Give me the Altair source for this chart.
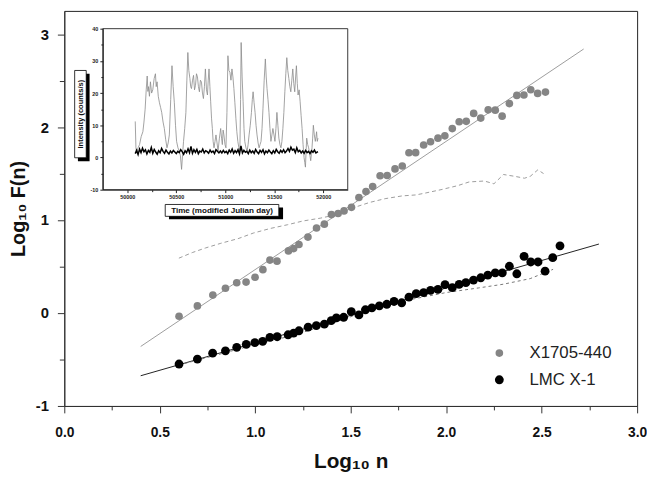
import altair as alt
import pandas as pd

FONT = "Liberation Sans"

# ---------------- main panel data ----------------
series_names = ["X1705-440", "LMC X-1"]
series_colors = ["#858585", "#000000"]

x1705_logn = [0.601, 0.697, 0.778, 0.844, 0.903, 0.952, 0.999, 1.040, 1.077, 1.114,
              1.174, 1.201, 1.229, 1.276, 1.321, 1.362, 1.399, 1.434, 1.465, 1.504,
              1.543, 1.580, 1.615, 1.654, 1.691, 1.732, 1.770, 1.805, 1.840, 1.882,
              1.918, 1.957, 1.993, 2.032, 2.068, 2.105, 2.144, 2.181, 2.220, 2.257,
              2.293, 2.331, 2.370, 2.407, 2.443, 2.479, 2.520]
x1705_logf = [-0.035, 0.076, 0.193, 0.266, 0.326, 0.333, 0.385, 0.466, 0.569, 0.558,
              0.668, 0.693, 0.737, 0.817, 0.915, 0.956, 1.059, 1.070, 1.098, 1.137,
              1.243, 1.307, 1.360, 1.477, 1.479, 1.550, 1.582, 1.724, 1.725, 1.807,
              1.842, 1.881, 1.906, 1.984, 2.058, 2.062, 2.147, 2.097, 2.186, 2.182,
              2.118, 2.253, 2.341, 2.345, 2.402, 2.362, 2.377]

lmc_logn = [0.601, 0.697, 0.777, 0.844, 0.903, 0.953, 0.998, 1.039, 1.077, 1.115,
            1.172, 1.201, 1.229, 1.277, 1.320, 1.362, 1.398, 1.425, 1.463, 1.503,
            1.543, 1.577, 1.611, 1.650, 1.689, 1.727, 1.767, 1.805, 1.843, 1.882,
            1.918, 1.957, 1.994, 2.032, 2.068, 2.103, 2.143, 2.181, 2.218, 2.257,
            2.294, 2.331, 2.370, 2.408, 2.443, 2.481, 2.518, 2.558, 2.596]
lmc_logf = [-0.549, -0.496, -0.432, -0.407, -0.369, -0.337, -0.319, -0.305, -0.262, -0.255,
            -0.234, -0.216, -0.191, -0.152, -0.135, -0.120, -0.082, -0.053, -0.046, 0.014,
            -0.021, 0.035, 0.056, 0.077, 0.094, 0.124, 0.110, 0.170, 0.209, 0.220,
            0.244, 0.255, 0.305, 0.273, 0.308, 0.326, 0.354, 0.379, 0.407, 0.432,
            0.432, 0.503, 0.422, 0.609, 0.549, 0.549, 0.450, 0.595, 0.723]

# straight-line fits (end points)
x1705_fit_logn = [0.40, 2.72]
x1705_fit_logf = [-0.36, 2.84]
lmc_fit_logn = [0.40, 2.80]
lmc_fit_logf = [-0.675, 0.742]

# dashed curves
x1705_dash_logn = [0.60, 0.67, 0.74, 0.82, 0.91, 0.99, 1.08, 1.17, 1.25, 1.34,
                   1.43, 1.51, 1.60, 1.68, 1.77, 1.84, 1.89, 1.98, 2.06, 2.12,
                   2.20, 2.25, 2.30, 2.36, 2.41, 2.44, 2.48, 2.51]
x1705_dash_logf = [0.59, 0.65, 0.70, 0.75, 0.80, 0.86, 0.91, 0.95, 0.99, 1.02,
                   1.06, 1.13, 1.19, 1.23, 1.26, 1.27, 1.29, 1.33, 1.37, 1.41,
                   1.42, 1.39, 1.49, 1.47, 1.45, 1.47, 1.54, 1.50]
lmc_dash_logn = [0.60, 0.80, 1.00, 1.20, 1.40, 1.60, 1.80, 2.00, 2.17, 2.30, 2.44, 2.56]
lmc_dash_logf = [-0.56, -0.45, -0.34, -0.24, -0.11, 0.03, 0.14, 0.22, 0.27, 0.31, 0.37, 0.47]

x_ticks = [0.0, 0.25, 0.5, 0.75, 1.0, 1.25, 1.5, 1.75, 2.0, 2.25, 2.5, 2.75, 3.0]
y_ticks = [-1.0, -0.5, 0.0, 0.5, 1.0, 1.5, 2.0, 2.5, 3.0]

# ---------------- inset data ----------------
inset_day_domain = [49750, 52250]
inset_rate_domain = [-10, 40]
inset_day_ticks = [50000, 50250, 50500, 50750, 51000, 51250, 51500, 51750, 52000]
inset_rate_ticks = [-10, -5, 0, 5, 10, 15, 20, 25, 30, 35, 40]

x1705_day = [50081, 50088, 50095, 50110, 50125, 50142, 50159, 50170, 50182, 50193,
             50203, 50210, 50216, 50226, 50236, 50248, 50260, 50274, 50287, 50295,
             50304, 50316, 50328, 50340, 50351, 50365, 50378, 50392, 50405, 50417,
             50429, 50443, 50456, 50468, 50480, 50492, 50503, 50517, 50530, 50542,
             50554, 50564, 50574, 50586, 50598, 50608, 50618, 50628, 50639, 50647,
             50655, 50666, 50676, 50686, 50696, 50706, 50716, 50726, 50736, 50746,
             50757, 50767, 50777, 50787, 50797, 50808, 50818, 50826, 50834, 50843,
             50851, 50860, 50868, 50876, 50885, 50895, 50905, 50916, 50926, 50940,
             50953, 50962, 50970, 50978, 50986, 50997, 51007, 51017, 51027, 51037,
             51047, 51058, 51068, 51078, 51088, 51098, 51108, 51118, 51128, 51139,
             51149, 51156, 51162, 51172, 51182, 51191, 51199, 51211, 51223, 51233,
             51243, 51255, 51267, 51276, 51284, 51294, 51304, 51314, 51324, 51335,
             51345, 51355, 51365, 51375, 51385, 51397, 51409, 51418, 51426, 51436,
             51446, 51456, 51466, 51476, 51486, 51497, 51507, 51517, 51527, 51537,
             51547, 51558, 51568, 51578, 51588, 51598, 51608, 51618, 51628, 51638,
             51649, 51659, 51669, 51679, 51689, 51699, 51709, 51718, 51726, 51735,
             51743, 51754, 51764, 51774, 51784, 51794, 51804, 51811, 51818, 51825,
             51831, 51841, 51851, 51862, 51872, 51879, 51885, 51892, 51899, 51909,
             51919, 51926, 51932, 51939, 51946]
x1705_rate = [11.2, 3.0, 1.5, 3.0, 4.0, 6.5, 8.0, 11.0, 15.0, 21.0,
              25.3, 20.5, 22.0, 19.0, 23.5, 20.0, 21.0, 24.5, 26.0, 22.0,
              23.5, 19.0, 17.0, 15.5, 14.0, 11.0, 9.0, 5.5, 3.0, 4.5,
              7.0, 18.0, 28.5, 22.0, 17.0, 10.0, 5.0, 3.0, 2.0, 0.5,
              -3.7, 1.0, 5.0, 9.0, 14.0, 24.0, 32.6, 27.0, 24.5, 22.0,
              21.4, 24.0, 25.5, 21.0, 22.4, 26.0, 25.0, 22.0, 20.4, 24.0,
              23.4, 20.0, 18.3, 22.0, 27.5, 21.0, 19.4, 24.0, 27.5, 22.0,
              17.3, 12.0, 9.0, 5.0, 3.0, 5.0, 7.0, 4.5, 2.0, 6.0,
              9.0, 6.0, 4.0, 8.5, 7.0, 4.0, 3.0, 14.0, 31.6, 27.0,
              26.5, 24.0, 27.5, 25.0, 21.4, 17.0, 12.2, 8.0, 5.0, 3.0,
              2.0, 18.0, 35.7, 25.0, 17.3, 9.0, 5.0, 3.0, 2.0, 4.0,
              7.0, 10.0, 14.0, 18.0, 20.4, 17.0, 14.0, 10.0, 7.0, 4.5,
              3.0, 4.0, 5.0, 9.0, 15.3, 24.0, 30.6, 25.0, 21.4, 18.0,
              14.0, 9.0, 5.0, 7.0, 9.0, 7.0, 5.0, 9.0, 14.0, 10.0,
              6.0, 4.0, 3.0, 5.0, 9.0, 14.0, 20.4, 26.0, 31.0, 27.0,
              24.5, 22.0, 20.4, 24.0, 27.5, 23.0, 20.4, 25.0, 28.5, 23.0,
              19.4, 21.0, 17.3, 13.0, 9.0, 4.0, 0.0, -1.5, -3.0, 2.0,
              6.0, 4.0, 3.0, 1.0, -1.0, 1.0, 3.0, 6.0, 10.0, 7.0,
              5.0, 6.5, 8.0, 5.0, 6.0]

lmc_day = [50081, 50095, 50110, 50125, 50140, 50155, 50170, 50185, 50200, 50215,
           50230, 50245, 50260, 50275, 50290, 50305, 50320, 50335, 50350, 50365,
           50380, 50395, 50410, 50425, 50440, 50455, 50470, 50485, 50500, 50515,
           50530, 50545, 50560, 50575, 50590, 50605, 50620, 50635, 50650, 50665,
           50680, 50695, 50710, 50725, 50740, 50755, 50770, 50785, 50800, 50815,
           50830, 50845, 50860, 50875, 50890, 50905, 50920, 50935, 50950, 50965,
           50980, 50995, 51010, 51025, 51040, 51055, 51070, 51085, 51100, 51115,
           51130, 51145, 51160, 51175, 51190, 51205, 51220, 51235, 51250, 51265,
           51280, 51295, 51310, 51325, 51340, 51355, 51370, 51385, 51400, 51415,
           51430, 51445, 51460, 51475, 51490, 51505, 51520, 51535, 51550, 51565,
           51580, 51595, 51610, 51625, 51640, 51655, 51670, 51685, 51700, 51715,
           51730, 51745, 51760, 51775, 51790, 51805, 51820, 51835, 51850, 51865,
           51880, 51895, 51910, 51925, 51946]
lmc_rate = [1.2, 2.2, 0.9, 2.6, 1.5, 2.9, 1.8, 2.4, 1.1, 2.2,
            1.6, 3.1, 1.3, 2.5, 1.7, 1.0, 2.1, 1.5, 2.8, 1.9,
            1.3, 2.3, 1.6, 1.1, 2.0, 1.4, 2.2, 1.7, 1.2, 1.9,
            1.5, 2.4, 1.8, 1.0, 2.1, 1.5, 2.7, 1.5, 3.4, 1.3,
            2.4, 1.6, 2.5, 1.2, 2.0, 1.7, 2.6, 1.4, 2.1, 1.8,
            1.3, 2.3, 1.6, 2.0, 1.2, 2.4, 1.9, 1.4, 2.0, 1.4,
            2.2, 1.5, 1.9, 1.2, 2.3, 1.6, 2.6, 1.3, 2.1, 1.5,
            2.4, 1.1, 3.6, 1.4, 2.2, 1.6, 1.9, 1.2, 2.3, 1.5,
            2.0, 1.3, 2.5, 1.7, 1.2, 2.2, 1.6, 2.4, 1.1, 2.0,
            1.5, 2.3, 1.7, 1.2, 2.1, 1.4, 2.5, 1.8, 1.3, 2.2,
            1.6, 2.4, 1.5, 2.0, 2.8, 1.9, 3.2, 2.3, 2.6, 1.5,
            3.0, 1.8, 2.2, 1.4, 2.0, 1.3, 2.2, 1.5, 1.9, 1.2,
            2.1, 1.6, 2.3, 1.4, 1.8]

assert len(x1705_day) == len(x1705_rate)
assert len(lmc_day) == len(lmc_rate)

inset_y_title = "Intensity (counts/s)"
inset_x_title = "Time (modified Julian day)"

# ---------------- tables ----------------
points = pd.concat([
    pd.DataFrame({"x": x1705_logn, "y": x1705_logf, "series": series_names[0]}),
    pd.DataFrame({"x": lmc_logn, "y": lmc_logf, "series": series_names[1]}),
], ignore_index=True)

fit_gray = pd.DataFrame({"x": x1705_fit_logn, "y": x1705_fit_logf})
fit_black = pd.DataFrame({"x": lmc_fit_logn, "y": lmc_fit_logf})
dash_gray = pd.DataFrame({"x": x1705_dash_logn, "y": x1705_dash_logf})
dash_black = pd.DataFrame({"x": lmc_dash_logn, "y": lmc_dash_logf})

curve_gray = pd.DataFrame({"day": x1705_day, "rate": x1705_rate})
curve_black = pd.DataFrame({"day": lmc_day, "rate": lmc_rate})
frame_df = pd.DataFrame({"day": [inset_day_domain[0]], "day_end": [inset_day_domain[1]],
                         "rate": [inset_rate_domain[0]], "rate_end": [inset_rate_domain[1]]})

# ---------------- main axes ----------------
AX_COMMON = dict(labelFont=FONT, labelFontWeight="bold", labelColor="#111",
                 titleFont=FONT, titleFontWeight="bold", titleColor="#111",
                 domainColor="#333", tickColor="#333", grid=False,
                 labelOverlap=False, labelFlush=False, zindex=1)

x_axis = alt.Axis(orient="bottom", values=x_ticks,
                  labelExpr="datum.value % 0.5 === 0 ? format(datum.value, '.1f') : ''",
                  tickSize={"condition": {"test": "datum.value % 0.5 === 0", "value": 7}, "value": 4},
                  labelFontSize=14, labelPadding=13, titleFontSize=21, titlePadding=11,
                  **AX_COMMON)
y_axis = alt.Axis(orient="left", values=y_ticks,
                  labelExpr="datum.value % 1 === 0 ? '' + datum.value : ''",
                  tickSize={"condition": {"test": "datum.value % 1 === 0", "value": 7}, "value": 5},
                  labelFontSize=15, labelPadding=9, titleFontSize=20, titlePadding=7,
                  **AX_COMMON)

X_MAIN = alt.X("x:Q", scale=alt.Scale(domain=[0, 3], nice=False, zero=False),
               axis=x_axis, title="Log₁₀ n")
Y_MAIN = alt.Y("y:Q", scale=alt.Scale(domain=[-1, 3.25], nice=False, zero=False),
               axis=y_axis, title="Log₁₀ F(n)")

fit_gray_l = alt.Chart(fit_gray).mark_line(color="#9c9c9c", strokeWidth=1).encode(x=X_MAIN, y=Y_MAIN)
fit_black_l = alt.Chart(fit_black).mark_line(color="#222", strokeWidth=1).encode(x=X_MAIN, y=Y_MAIN)
dash_gray_l = alt.Chart(dash_gray).mark_line(color="#9c9c9c", strokeWidth=1,
                                             strokeDash=[4, 3]).encode(x=X_MAIN, y=Y_MAIN)
dash_black_l = alt.Chart(dash_black).mark_line(color="#777", strokeWidth=1,
                                               strokeDash=[3, 3]).encode(x=X_MAIN, y=Y_MAIN)
pts = alt.Chart(points).mark_circle(opacity=1).encode(
    x=X_MAIN, y=Y_MAIN,
    color=alt.Color("series:N", scale=alt.Scale(domain=series_names, range=series_colors),
                    legend=alt.Legend(orient="none", legendX=432, legendY=338, title=None,
                                      labelFont=FONT, labelFontSize=17, labelColor="#222",
                                      symbolType="circle", symbolSize=80, symbolStrokeWidth=0,
                                      labelOffset=22, rowPadding=9, padding=0)),
    size=alt.Size("series:N", scale=alt.Scale(domain=series_names, range=[60, 80]), legend=None),
)

main = alt.layer(fit_gray_l, fit_black_l, dash_gray_l, dash_black_l, pts)

# ---------------- inset ----------------
IN_COMMON = dict(labelFont=FONT, labelFontWeight="bold", labelFontSize=5.5, labelColor="#222",
                 domainColor="#222", tickColor="#222", grid=False, labelOverlap=False,
                 labelFlush=False, zindex=2)
ix_axis = alt.Axis(orient="bottom", offset=-219, values=inset_day_ticks,
                   labelExpr="datum.value % 500 === 0 ? '' + datum.value : ''",
                   tickSize={"condition": {"test": "datum.value % 500 === 0", "value": 3}, "value": 2},
                   labelPadding=2, **IN_COMMON)
iy_axis = alt.Axis(orient="left", offset=-39, values=inset_rate_ticks,
                   labelExpr="datum.value % 10 === 0 ? '' + datum.value : ''",
                   tickSize={"condition": {"test": "datum.value % 10 === 0", "value": 3}, "value": 2},
                   labelPadding=2, **IN_COMMON)
X_IN = alt.X("day:Q", scale=alt.Scale(domain=inset_day_domain, range=[39, 287], nice=False, zero=False),
             axis=ix_axis, title=None)
Y_IN = alt.Y("rate:Q", scale=alt.Scale(domain=inset_rate_domain, range=[181, 18], nice=False, zero=False),
             axis=iy_axis, title=None)

frame = alt.Chart(frame_df).mark_rect(fill="white", stroke="#222", strokeWidth=0.9).encode(
    x=X_IN, x2="day_end:Q", y=Y_IN, y2="rate_end:Q")
gray_curve = alt.Chart(curve_gray).mark_line(color="#8a8a8a", strokeWidth=0.8).encode(x=X_IN, y=Y_IN)
black_curve = alt.Chart(curve_black).mark_line(color="#000", strokeWidth=1.5).encode(x=X_IN, y=Y_IN)
inset = alt.layer(frame, gray_curve, black_curve)

# boxed inset titles (decoration)
ytitle_df = pd.DataFrame({"label": [inset_y_title]})
xtitle_df = pd.DataFrame({"label": [inset_x_title]})
y_shadow = alt.Chart(ytitle_df).mark_rect(color="#000").encode(
    x=alt.value(13.8), x2=alt.value(25.6), y=alt.value(63.6), y2=alt.value(152.2))
y_box = alt.Chart(ytitle_df).mark_rect(fill="white", stroke="#000", strokeWidth=0.8).encode(
    x=alt.value(10.5), x2=alt.value(22.2), y=alt.value(60.3), y2=alt.value(148.7))
y_text = alt.Chart(ytitle_df).mark_text(angle=270, font=FONT, fontSize=7.6, fontWeight="bold",
                                        color="#111", align="center", baseline="middle").encode(
    x=alt.value(16.5), y=alt.value(104.5), text="label:N")
x_shadow = alt.Chart(xtitle_df).mark_rect(color="#000").encode(
    x=alt.value(106), x2=alt.value(221.5), y=alt.value(199), y2=alt.value(211))
x_box = alt.Chart(xtitle_df).mark_rect(fill="white", stroke="#000", strokeWidth=0.8).encode(
    x=alt.value(102.2), x2=alt.value(217.2), y=alt.value(196), y2=alt.value(208))
x_text = alt.Chart(xtitle_df).mark_text(font=FONT, fontSize=8.2, fontWeight="bold", color="#111",
                                        align="center", baseline="middle").encode(
    x=alt.value(159.7), y=alt.value(202.3), text="label:N")

chart = alt.layer(main, inset, y_shadow, y_box, y_text, x_shadow, x_box, x_text).resolve_scale(
    x="independent", y="independent").resolve_axis(x="independent", y="independent").properties(
    width=580, height=400,
    padding={"left": 57, "top": 0, "right": 10, "bottom": 70},
    autosize=alt.AutoSizeParams(type="none"),
).configure_view(stroke="#222", strokeWidth=1)

chart.save("out.html", embed_options={"renderer": "svg", "actions": False})
